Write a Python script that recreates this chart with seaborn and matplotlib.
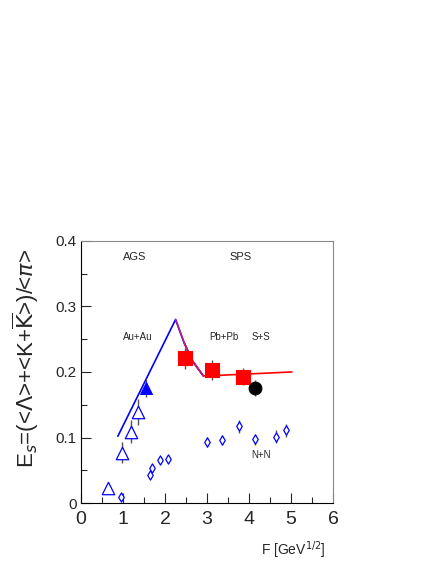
import numpy as np
import pandas as pd
import matplotlib
matplotlib.use('Agg')
import matplotlib.pyplot as plt
import seaborn as sns

# AGS Au+Au open triangles
ags_x = [0.65, 0.98, 1.18, 1.36]
ags_y = [0.023, 0.077, 0.109, 0.139]
ags_err = [0.0, 0.016, 0.017, 0.02]
# filled triangle
ags2_x = [1.54]
ags2_y = [0.176]
ags2_err = [0.014]
# Pb+Pb squares
pb_x = [2.48, 3.12, 3.86]
pb_y = [0.221, 0.203, 0.193]
pb_err = [0.016, 0.016, 0.013]
# S+S
ss_x = [4.13]
ss_y = [0.175]
ss_err = [0.012]
# N+N diamonds
nn_x = [0.94, 1.65, 1.70, 1.89, 2.08, 2.99, 3.36, 3.77, 4.13, 4.64, 4.88]
nn_y = [0.009, 0.043, 0.053, 0.065, 0.068, 0.093, 0.096, 0.117, 0.097, 0.101, 0.111]
nn_err = [0.0, 0.006, 0.006, 0.005, 0.006, 0.008, 0.008, 0.010, 0.008, 0.010, 0.010]
# model line
blue_x = [0.875, 2.25, 2.45, 2.65, 2.91]
blue_y = [0.102, 0.280, 0.245, 0.217, 0.194]
red_x = [2.25, 2.45, 2.65, 2.91, 3.0, 5.02]
red_y = [0.280, 0.245, 0.217, 0.194, 0.194, 0.200]

x_ticks = [0, 1, 2, 3, 4, 5, 6]
y_ticks = [0, 0.1, 0.2, 0.3, 0.4]
y_labels = ['0', '0.1', '0.2', '0.3', '0.4']

sns.set_style('white')
plt.rcParams['font.family'] = ['Liberation Sans', 'DejaVu Sans']
plt.rcParams['mathtext.fontset'] = 'dejavusans'

fig = plt.figure(figsize=(4.36, 5.64), dpi=100)
ax = fig.add_axes([0.186, 0.108, 0.578, 0.465])

sns.lineplot(x=blue_x, y=blue_y, sort=False, color='blue', lw=1.2, ax=ax)
sns.lineplot(x=red_x[1:], y=red_y[1:], sort=False, color='red', lw=1.2, ax=ax)
# mixed red/blue on the falling branch
sns.lineplot(x=red_x[:4], y=red_y[:4], sort=False, color='#b0208a', lw=1.2, ax=ax)

for xs, ys, errs in [(ags_x, ags_y, ags_err), (ags2_x, ags2_y, ags2_err), (pb_x, pb_y, pb_err),
                     (ss_x, ss_y, ss_err), (nn_x, nn_y, nn_err)]:
    ax.errorbar(xs, ys, yerr=errs, fmt='none', ecolor='#555555', elinewidth=1.0, zorder=2)

sns.scatterplot(x=ags_x, y=ags_y, marker='^', s=80, color='white', edgecolor='blue', linewidth=0.9, ax=ax, zorder=3)
sns.scatterplot(x=ags2_x, y=ags2_y, marker='^', s=75, color='blue', edgecolor='blue', ax=ax, zorder=3)
sns.scatterplot(x=pb_x, y=pb_y, marker='s', s=100, color='red', edgecolor='red', ax=ax, zorder=3)
sns.scatterplot(x=ss_x, y=ss_y, marker='o', s=85, color='black', edgecolor='black', ax=ax, zorder=3)
sns.scatterplot(x=nn_x, y=nn_y, marker='d', s=22, color='white', edgecolor='blue', linewidth=0.9, ax=ax, zorder=3)

ax.set_xlim(0, 6)
ax.set_ylim(0, 0.4)
ax.set_xticks(x_ticks)
ax.set_xticks(np.arange(0.5, 6, 1), minor=True)
ax.set_yticks(y_ticks)
ax.set_yticklabels(y_labels)
ax.set_yticks(np.arange(0.05, 0.4, 0.1), minor=True)
ax.tick_params(which='both', direction='in', bottom=True, left=True, top=False, right=False)
ax.tick_params(which='major', length=7, width=0.8)
ax.tick_params(which='minor', length=4, width=0.8)
ax.tick_params(axis='x', labelsize=14, pad=6)
ax.tick_params(axis='y', labelsize=11, pad=3)

for side in ['left', 'bottom']:
    ax.spines[side].set_color('black')
for side in ['top', 'right']:
    ax.spines[side].set_color('#888888')

ax.text(1.28, 0.375, 'AGS', fontsize=8, ha='center', va='center')
ax.text(3.8, 0.375, 'SPS', fontsize=8, ha='center', va='center')
ax.text(1.35, 0.253, 'Au+Au', fontsize=7, ha='center', va='center')
ax.text(3.4, 0.253, 'Pb+Pb', fontsize=7, ha='center', va='center')
ax.text(4.27, 0.253, 'S+S', fontsize=7, ha='center', va='center')
ax.text(4.29, 0.073, 'N+N', fontsize=7, ha='center', va='center')

fig.text(0.058, 0.365, r'E$_s$=(<$\Lambda$>+<K+$\overline{\mathrm{K}}$>)/<$\pi$>', rotation=90,
         fontsize=16, ha='center', va='center')
fig.text(0.672, 0.025, r'F [GeV$^{1/2}$]', fontsize=10, ha='center', va='center')

fig.savefig('out.png', dpi=100)
